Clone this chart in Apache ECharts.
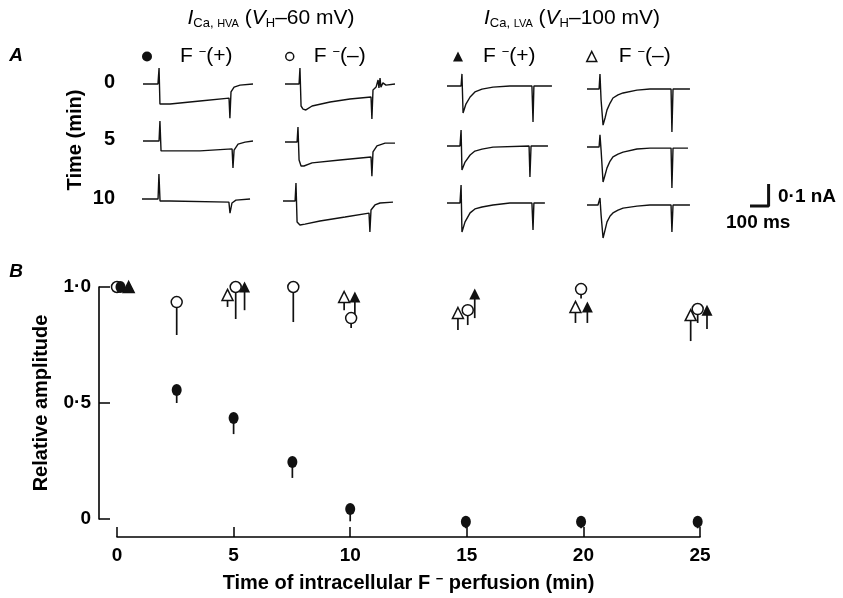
<!DOCTYPE html>
<html>
<head>
<meta charset="utf-8">
<script src="https://cdn.jsdelivr.net/npm/echarts@6/dist/echarts.min.js"></script>
<style>
  html, body { margin: 0; padding: 0; background: #fff; }
  #chart { width: 843px; height: 598px; }
</style>
</head>
<body>
<div id="chart"></div>
<script>
// ---- Panel B: relative amplitude vs. perfusion time (min) ----
// HVA current, F- in pipette (filled circles)
const hvaPlusTime = [0.15, 2.56, 5.0, 7.52, 10.0, 14.96, 19.9, 24.9];
const hvaPlusAmp  = [1.0, 0.556, 0.435, 0.246, 0.043, -0.012, -0.012, -0.012];
const hvaPlusLow  = [1.0, 0.50, 0.366, 0.177, -0.01, -0.04, -0.04, -0.04];
// HVA current, F- free (open circles)
const hvaMinusTime = [0.0, 2.56, 5.09, 7.56, 10.04, 15.04, 19.9, 24.9];
const hvaMinusAmp  = [1.0, 0.935, 1.0, 1.0, 0.866, 0.90, 0.991, 0.905];
const hvaMinusLow  = [1.0, 0.793, 0.862, 0.849, 0.823, 0.836, 0.95, 0.845];
// LVA current, F- in pipette (filled triangles)
const lvaPlusTime = [0.5, 5.47, 10.2, 15.34, 20.17, 25.3];
const lvaPlusAmp  = [1.0, 1.0, 0.957, 0.97, 0.914, 0.90];
const lvaPlusLow  = [1.0, 0.90, 0.88, 0.866, 0.845, 0.819];
// LVA current, F- free (open triangles)
const lvaMinusTime = [0.5, 4.74, 9.74, 14.62, 19.66, 24.6];
const lvaMinusAmp  = [1.0, 0.966, 0.957, 0.888, 0.914, 0.879];
const lvaMinusLow  = [1.0, 0.914, 0.90, 0.815, 0.845, 0.767];

// ---- Panel A: current traces, [time (ms), current (nA)] from holding level ----
const hvaPlusRow0  = [[0,0],[68,0],[73,0.073],[77,-0.091],[86,-0.095],[123,-0.091],[259,-0.077],[391,-0.064],[395,-0.155],[400,-0.036],[414,-0.014],[441,-0.005],[500,0]];
const hvaPlusRow5  = [[0,0],[73,0],[77,0.091],[82,-0.045],[91,-0.05],[259,-0.045],[405,-0.036],[409,-0.123],[414,-0.041],[432,-0.014],[464,-0.005],[500,0]];
const hvaPlusRow10 = [[0,0],[73,0],[77,0.114],[82,-0.009],[127,-0.009],[395,-0.014],[400,-0.064],[409,-0.018],[427,-0.005],[491,0]];
const hvaMinusRow0  = [[0,0],[64,0],[68,0.073],[73,-0.1],[82,-0.114],[95,-0.118],[123,-0.1],[205,-0.082],[295,-0.068],[391,-0.059],[395,-0.159],[400,-0.027],[414,-0.014],[423,0.018],[427,-0.018],[432,0.027],[436,-0.014],[445,0.005],[459,-0.005],[500,0]];
const hvaMinusRow5  = [[0,0],[55,0],[59,0.068],[64,-0.082],[73,-0.109],[86,-0.109],[123,-0.095],[250,-0.082],[391,-0.068],[395,-0.155],[400,-0.045],[418,-0.018],[455,-0.005],[500,-0.005]];
const hvaMinusRow10 = [[0,0],[55,0],[59,0.082],[64,-0.095],[77,-0.109],[100,-0.105],[168,-0.091],[282,-0.073],[391,-0.055],[395,-0.141],[400,-0.041],[418,-0.018],[441,-0.009],[500,-0.005]];
const lvaPlusRow0  = [[0,0],[64,0],[68,0.055],[73,-0.123],[86,-0.082],[105,-0.05],[127,-0.027],[159,-0.014],[209,-0.005],[286,0],[386,0],[391,-0.164],[395,0],[477,0]];
const lvaPlusRow5  = [[0,0],[59,0],[64,0.073],[68,-0.109],[82,-0.073],[105,-0.041],[127,-0.023],[159,-0.014],[209,-0.005],[373,0],[377,-0.141],[382,0],[459,0]];
const lvaPlusRow10 = [[0,0],[59,0],[64,0.082],[68,-0.132],[82,-0.086],[105,-0.045],[127,-0.027],[159,-0.018],[209,-0.009],[286,0],[386,0],[391,-0.123],[395,0],[445,0]];
const lvaMinusRow0  = [[0,0],[55,0],[59,0.068],[64,-0.05],[73,-0.164],[82,-0.132],[91,-0.095],[105,-0.064],[118,-0.041],[141,-0.027],[164,-0.018],[227,-0.005],[286,0],[382,0],[386,-0.195],[391,0],[468,0]];
const lvaMinusRow5  = [[0,0],[55,0],[59,0.055],[64,-0.014],[73,-0.159],[82,-0.127],[91,-0.095],[105,-0.064],[118,-0.045],[141,-0.032],[164,-0.023],[227,-0.009],[286,-0.005],[382,-0.005],[386,-0.186],[391,-0.005],[459,-0.005]];
const lvaMinusRow10 = [[0,0],[50,0],[59,0.032],[64,-0.045],[73,-0.15],[82,-0.114],[91,-0.077],[105,-0.05],[118,-0.036],[141,-0.023],[164,-0.014],[227,-0.005],[286,0],[382,0],[386,-0.123],[391,0],[468,0]];
// calibration: 100 ms, 0.1 nA
const scaleBar = [[0,0],[100,0],[100,0.1]];

const rowLabels = ['0', '5', '10'];

const FONT = '"Liberation Sans", Arial, Helvetica, sans-serif';
const INK = '#111';
const W = 'bold';

// Trace placement (each trace gets its own grid with identical ms / nA scaling)
const PX_PER_MS = 0.22, PX_PER_NA = 220;
const T_MAX = 500, I_MIN = -0.25, I_MAX = 0.15;
const traces = [
  { data: hvaPlusRow0,  left: 143, base: 84 },
  { data: hvaPlusRow5,  left: 143, base: 141 },
  { data: hvaPlusRow10, left: 142, base: 199 },
  { data: hvaMinusRow0,  left: 285, base: 84 },
  { data: hvaMinusRow5,  left: 285, base: 142 },
  { data: hvaMinusRow10, left: 283, base: 201 },
  { data: lvaPlusRow0,  left: 447, base: 86 },
  { data: lvaPlusRow5,  left: 447, base: 146 },
  { data: lvaPlusRow10, left: 447, base: 203 },
  { data: lvaMinusRow0,  left: 587, base: 89 },
  { data: lvaMinusRow5,  left: 587, base: 147 },
  { data: lvaMinusRow10, left: 587, base: 205 },
  { data: scaleBar, left: 750, base: 206, width: 3 }
];

const grids = [{ left: 117, right: 143, top: 287, bottom: 79 }];
const xAxes = [];
const yAxes = [];
const series = [];

const ampLabel = v => (v === 0 ? '0' : v.toFixed(1).replace('.', '\u00b7'));

xAxes.push({
  gridIndex: 0, type: 'value', min: 0, max: 25, interval: 5, offset: 18,
  axisLine: { onZero: false, lineStyle: { color: '#000', width: 1.6 } },
  axisTick: { inside: true, length: 10, lineStyle: { color: '#000', width: 1.5 } },
  axisLabel: { margin: 9, color: '#000', fontSize: 19, fontWeight: W, fontFamily: FONT },
  splitLine: { show: false },
  name: 'Time of intracellular F {m|\u2212} perfusion (min)',
  nameLocation: 'middle', nameGap: 36,
  nameTextStyle: { color: '#000', fontSize: 20, fontWeight: W, fontFamily: FONT,
    rich: { m: { fontSize: 13, fontWeight: W, verticalAlign: 'top', fontFamily: FONT, color: '#000' } } }
});
yAxes.push({
  gridIndex: 0, type: 'value', min: 0, max: 1, interval: 0.5, offset: 18,
  axisLine: { show: true, onZero: false, lineStyle: { color: '#000', width: 1.6 } },
  axisTick: { show: true, inside: true, length: 11, lineStyle: { color: '#000', width: 1.5 } },
  axisLabel: { margin: 8, color: '#000', fontSize: 19, fontWeight: W, fontFamily: FONT, formatter: ampLabel },
  splitLine: { show: false },
  name: 'Relative amplitude', nameLocation: 'middle', nameGap: 48, nameRotate: 90,
  nameTextStyle: { color: '#000', fontSize: 20, fontWeight: W, fontFamily: FONT }
});

traces.forEach((tr, i) => {
  const gi = i + 1;
  grids.push({
    left: tr.left,
    top: tr.base - I_MAX * PX_PER_NA,
    width: T_MAX * PX_PER_MS,
    height: (I_MAX - I_MIN) * PX_PER_NA
  });
  xAxes.push({ gridIndex: gi, type: 'value', min: 0, max: T_MAX, show: false });
  yAxes.push({ gridIndex: gi, type: 'value', min: I_MIN, max: I_MAX, show: false });
  series.push({
    type: 'line', xAxisIndex: gi, yAxisIndex: gi, data: tr.data,
    showSymbol: false, silent: true, clip: false,
    lineStyle: { color: INK, width: tr.width || 1.4 }
  });
});

// Error bars (drawn below markers)
function stems(times, amps, lows) {
  return times.map((t, k) => [t, amps[k], lows[k]]);
}
const stemData = [].concat(
  stems(hvaMinusTime, hvaMinusAmp, hvaMinusLow),
  stems(hvaPlusTime, hvaPlusAmp, hvaPlusLow),
  stems(lvaMinusTime, lvaMinusAmp, lvaMinusLow),
  stems(lvaPlusTime, lvaPlusAmp, lvaPlusLow)
);
series.push({
  type: 'custom', xAxisIndex: 0, yAxisIndex: 0, z: 2, clip: false, silent: true,
  data: stemData,
  encode: { x: 0, y: 1 },
  renderItem: (params, api) => {
    const p = api.coord([api.value(0), api.value(1)]);
    const q = api.coord([api.value(0), api.value(2)]);
    return { type: 'line', shape: { x1: p[0], y1: p[1], x2: q[0], y2: q[1] },
             style: { stroke: INK, lineWidth: 1.7 } };
  }
});

const pts = (times, amps) => times.map((t, k) => [t, amps[k]]);
const openStyle = { color: '#fff', borderColor: INK, borderWidth: 1.5, opacity: 1 };
const fillStyle = { color: INK, borderColor: INK, borderWidth: 0, opacity: 1 };
series.push(
  { name: 'HVA F(-)', type: 'scatter', xAxisIndex: 0, yAxisIndex: 0, z: 3, clip: false,
    symbol: 'circle', symbolSize: 11, itemStyle: openStyle, data: pts(hvaMinusTime, hvaMinusAmp) },
  { name: 'HVA F(+)', type: 'scatter', xAxisIndex: 0, yAxisIndex: 0, z: 3, clip: false,
    symbol: 'circle', symbolSize: [10, 12], itemStyle: fillStyle, data: pts(hvaPlusTime, hvaPlusAmp) },
  { name: 'LVA F(-)', type: 'scatter', xAxisIndex: 0, yAxisIndex: 0, z: 3, clip: false,
    symbol: 'triangle', symbolSize: 11, itemStyle: openStyle, data: pts(lvaMinusTime, lvaMinusAmp) },
  { name: 'LVA F(+)', type: 'scatter', xAxisIndex: 0, yAxisIndex: 0, z: 3, clip: false,
    symbol: 'triangle', symbolSize: 11, itemStyle: fillStyle, data: pts(lvaPlusTime, lvaPlusAmp) }
);

// Column keys
const keyRich = { m: { fontSize: 13, verticalAlign: 'top', fontFamily: FONT, color: '#000' } };
function key(name, icon, left, gap, sign, hollow, size) {
  return {
    data: [{ name, icon, itemStyle: hollow ? openStyle : fillStyle }],
    left, top: 46, padding: 0, itemWidth: size, itemHeight: size, selectedMode: false,
    formatter: () => 'F {m|\u2212}(' + sign + ')',
    textStyle: { color: '#000', fontSize: 21, fontFamily: FONT,
      padding: [0, 0, 0, gap], rich: keyRich }
  };
}
const legends = [
  key('HVA F(+)', 'circle', 142, 23, '+', false, 10),
  key('HVA F(-)', 'circle', 285, 15, '\u2013', true, 8),
  key('LVA F(+)', 'triangle', 453, 15, '+', false, 10),
  key('LVA F(-)', 'triangle', 586, 17, '\u2013', true, 10)
];

const headRich = {
  i: { fontSize: 21, fontStyle: 'italic', fontFamily: FONT, color: '#000' },
  n: { fontSize: 21, fontFamily: FONT, color: '#000' },
  s: { fontSize: 13, fontFamily: FONT, color: '#000', verticalAlign: 'top', padding: [11, 0, 0, 0] },
  c: { fontSize: 11, fontFamily: FONT, color: '#000', verticalAlign: 'top', padding: [12, 0, 0, 0] }
};
const txt = (x, y, text, extra, rot) => Object.assign({
  type: 'text', x, y, rotation: rot || 0,
  style: Object.assign({ text, fill: '#000', fontSize: 20, fontWeight: W, fontFamily: FONT,
    align: 'center', verticalAlign: 'middle' }, extra || {})
});

const graphics = [
  txt(271, 18, '{i|I}{s|Ca, }{c|HVA}{n| (}{i|V}{s|H}{n|\u201360 mV)}', { rich: headRich, fontWeight: 'normal' }),
  txt(572, 18, '{i|I}{s|Ca, }{c|LVA}{n| (}{i|V}{s|H}{n|\u2013100 mV)}', { rich: headRich, fontWeight: 'normal' }),
  txt(16, 56, 'A', { fontStyle: 'italic', fontSize: 19 }),
  txt(16, 272, 'B', { fontStyle: 'italic', fontSize: 19 }),
  txt(115, 82, rowLabels[0], { align: 'right' }),
  txt(115, 139, rowLabels[1], { align: 'right' }),
  txt(115, 198, rowLabels[2], { align: 'right' }),
  txt(75, 140, 'Time (min)', {}, Math.PI / 2),
  txt(778, 197, '0\u00b71 nA', { align: 'left', fontSize: 19 }),
  txt(726, 223, '100 ms', { align: 'left', fontSize: 19 })
];

const chart = echarts.init(document.getElementById('chart'), null, { renderer: 'canvas' });
chart.setOption({
  animation: false,
  backgroundColor: '#fff',
  textStyle: { fontFamily: FONT },
  grid: grids,
  xAxis: xAxes,
  yAxis: yAxes,
  legend: legends,
  series,
  graphic: { elements: graphics }
});
</script>
</body>
</html>
